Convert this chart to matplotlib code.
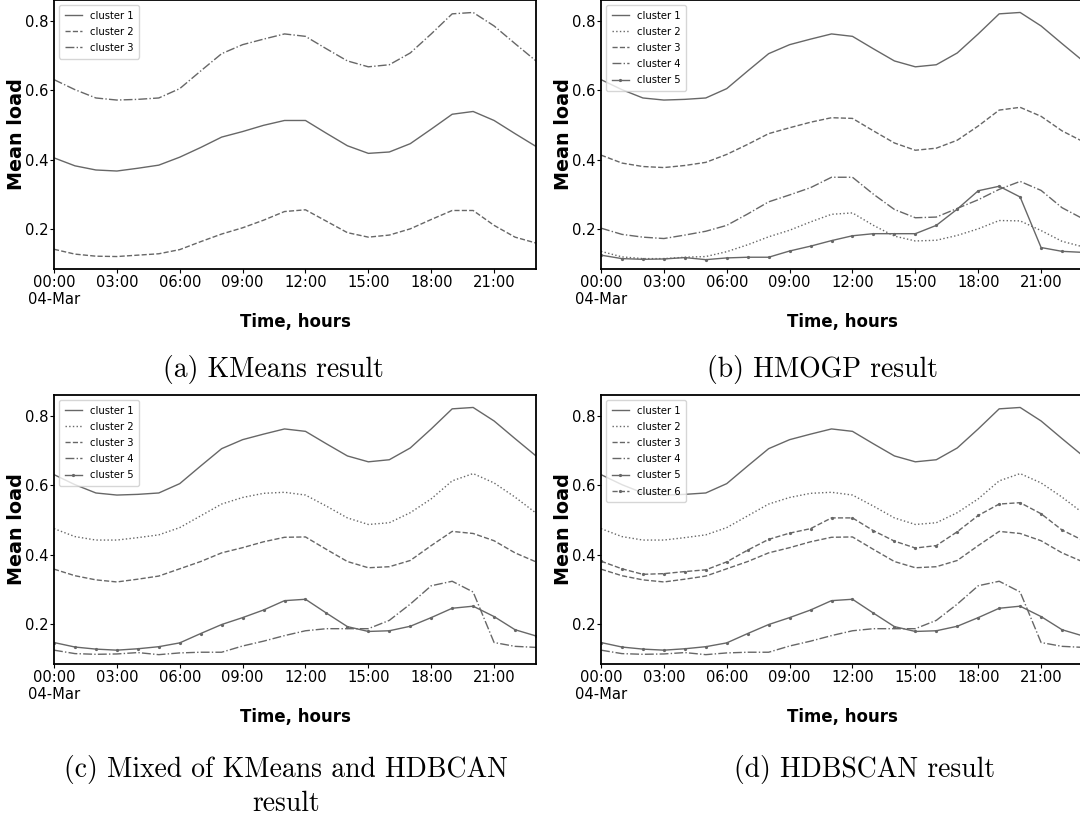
import matplotlib
matplotlib.use("Agg")
import matplotlib.pyplot as plt
from matplotlib import font_manager as fm

# ---------------------------------------------------------------- data
hours = list(range(24))
tick_hours = [0, 3, 6, 9, 12, 15, 18, 21]
tick_labels = ["00:00\n04-Mar", "03:00", "06:00", "09:00",
               "12:00", "15:00", "18:00", "21:00"]
y_ticks = [0.2, 0.4, 0.6, 0.8]

# evening-peak profile shared by the highest-load cluster in every method
high_load = [0.631, 0.602, 0.578, 0.572, 0.574, 0.578, 0.605, 0.656,
             0.706, 0.732, 0.748, 0.763, 0.756, 0.720, 0.685, 0.668,
             0.674, 0.708, 0.763, 0.821, 0.825, 0.786, 0.735, 0.685]

# profile with the sharp drop after 20:00
drop_load = [0.124, 0.114, 0.112, 0.113, 0.117, 0.111, 0.116, 0.118,
             0.118, 0.136, 0.150, 0.166, 0.180, 0.186, 0.186, 0.186,
             0.210, 0.257, 0.310, 0.323, 0.292, 0.146, 0.135, 0.132]

# (a) KMeans
kmeans_c1 = [0.405, 0.382, 0.370, 0.367, 0.375, 0.384, 0.407, 0.435,
             0.465, 0.481, 0.499, 0.513, 0.513, 0.476, 0.440, 0.418,
             0.422, 0.446, 0.488, 0.531, 0.539, 0.513, 0.475, 0.438]
kmeans_c2 = [0.141, 0.127, 0.121, 0.120, 0.124, 0.128, 0.140, 0.163,
             0.185, 0.203, 0.225, 0.250, 0.255, 0.222, 0.189, 0.176,
             0.182, 0.200, 0.227, 0.253, 0.253, 0.210, 0.176, 0.159]
kmeans_c3 = high_load

# (b) HMOGP
hmogp_c1 = high_load
hmogp_c2 = [0.135, 0.119, 0.114, 0.114, 0.118, 0.120, 0.134, 0.154,
            0.177, 0.196, 0.220, 0.242, 0.246, 0.210, 0.179, 0.165,
            0.167, 0.181, 0.200, 0.224, 0.223, 0.195, 0.164, 0.148]
hmogp_c3 = [0.413, 0.390, 0.380, 0.377, 0.383, 0.392, 0.415, 0.444,
            0.475, 0.492, 0.508, 0.521, 0.519, 0.483, 0.448, 0.427,
            0.433, 0.456, 0.497, 0.543, 0.551, 0.525, 0.483, 0.452]
hmogp_c4 = [0.202, 0.184, 0.176, 0.172, 0.182, 0.193, 0.210, 0.243,
            0.278, 0.298, 0.319, 0.349, 0.349, 0.300, 0.256, 0.232,
            0.234, 0.259, 0.284, 0.314, 0.337, 0.311, 0.261, 0.229]
hmogp_c5 = drop_load

# (c) mixed KMeans + HDBSCAN, (d) HDBSCAN
mixed_c1 = high_load
mixed_c2 = [0.475, 0.452, 0.442, 0.442, 0.449, 0.457, 0.478, 0.512,
            0.546, 0.565, 0.577, 0.580, 0.572, 0.540, 0.506, 0.487,
            0.492, 0.521, 0.561, 0.613, 0.634, 0.607, 0.566, 0.520]
mixed_c3 = [0.358, 0.339, 0.327, 0.321, 0.329, 0.338, 0.359, 0.380,
            0.405, 0.420, 0.437, 0.450, 0.451, 0.415, 0.380, 0.362,
            0.365, 0.383, 0.426, 0.467, 0.461, 0.440, 0.405, 0.379]
mixed_c4 = drop_load
mixed_c5 = [0.146, 0.133, 0.127, 0.124, 0.128, 0.134, 0.145, 0.172,
            0.198, 0.218, 0.240, 0.267, 0.271, 0.231, 0.192, 0.178,
            0.180, 0.193, 0.218, 0.245, 0.251, 0.221, 0.183, 0.165]
hdbscan_c6 = [0.381, 0.359, 0.343, 0.345, 0.351, 0.356, 0.379, 0.413,
              0.444, 0.462, 0.475, 0.506, 0.506, 0.469, 0.439, 0.419,
              0.426, 0.466, 0.513, 0.546, 0.550, 0.518, 0.471, 0.441]

# ---------------------------------------------------------------- fonts
def narrow_font():
    """Prefer a condensed sans for the horizontal labels."""
    entries = fm.fontManager.ttflist
    if any(f.name == "DejaVu Sans" and f.stretch == "condensed" for f in entries):
        return {"family": "DejaVu Sans", "stretch": "condensed"}
    names = {f.name for f in entries}
    for name in ("Liberation Sans Narrow", "Roboto Condensed", "Open Sans Condensed"):
        if name in names:
            return {"family": name}
    return {"family": "DejaVu Sans"}

NARROW = narrow_font()
tick_fp = fm.FontProperties(size=11.8, **NARROW)
legend_fp = fm.FontProperties(size=8.0, **NARROW)
xlabel_fp = fm.FontProperties(size=13.3, weight="bold", **NARROW)
ylabel_fp = fm.FontProperties(family="DejaVu Sans", size=13.8, weight="bold")
caption_fp = fm.FontProperties(family="cmr10", size=19.9)

LINE = "#676767"
STYLES = {
    "solid":   dict(linestyle="-"),
    "dotted":  dict(linestyle=":"),
    "dashed":  dict(linestyle="--"),
    "dashdot": dict(linestyle="-."),
    "marked":  dict(linestyle="-", marker=".", markersize=2.6),
    "markdash": dict(linestyle="--", marker=".", markersize=2.6),
}

# ---------------------------------------------------------------- layout
W, H = 1080, 818
fig = plt.figure(figsize=(W / 100, H / 100), dpi=100)


def panel(left, top, right, bottom):
    return fig.add_axes([left / W, 1 - bottom / H, (right - left) / W, (bottom - top) / H])


def draw(ax, series):
    for name, values, style in series:
        ax.plot(hours, values, color=LINE, linewidth=1.0, label=name, **STYLES[style])
    ax.set_xlim(0, 23)
    ax.set_ylim(0.084, 0.861)
    ax.set_xticks(tick_hours)
    ax.set_xticklabels(tick_labels, fontproperties=tick_fp, linespacing=1.15)
    ax.set_yticks(y_ticks)
    ax.set_yticklabels([f"{v:.1f}" for v in y_ticks], fontproperties=tick_fp)
    ax.tick_params(length=3, width=0.8, pad=1.2, colors="black")
    for sp in ax.spines.values():
        sp.set_linewidth(1.3)
    ax.set_xlabel("Time, hours", fontproperties=xlabel_fp)
    ax.xaxis.set_label_coords(0.5, -0.165)
    ax.set_ylabel("Mean load", fontproperties=ylabel_fp)
    ax.yaxis.set_label_coords(-0.059, 0.5)
    ax.legend(loc="upper left", prop=legend_fp, handlelength=1.6,
              handletextpad=0.7, borderaxespad=0.45, borderpad=0.5,
              labelspacing=0.56, framealpha=0.8)


ax_a = panel(54, 0, 536, 269)
draw(ax_a, [("cluster 1", kmeans_c1, "solid"),
            ("cluster 2", kmeans_c2, "dashed"),
            ("cluster 3", kmeans_c3, "dashdot")])

ax_b = panel(601, 0, 1083, 269)
draw(ax_b, [("cluster 1", hmogp_c1, "solid"),
            ("cluster 2", hmogp_c2, "dotted"),
            ("cluster 3", hmogp_c3, "dashed"),
            ("cluster 4", hmogp_c4, "dashdot"),
            ("cluster 5", hmogp_c5, "marked")])

ax_c = panel(54, 395, 536, 664)
draw(ax_c, [("cluster 1", mixed_c1, "solid"),
            ("cluster 2", mixed_c2, "dotted"),
            ("cluster 3", mixed_c3, "dashed"),
            ("cluster 4", mixed_c4, "dashdot"),
            ("cluster 5", mixed_c5, "marked")])

ax_d = panel(601, 395, 1083, 664)
draw(ax_d, [("cluster 1", mixed_c1, "solid"),
            ("cluster 2", mixed_c2, "dotted"),
            ("cluster 3", mixed_c3, "dashed"),
            ("cluster 4", mixed_c4, "dashdot"),
            ("cluster 5", mixed_c5, "marked"),
            ("cluster 6", hdbscan_c6, "markdash")])

# sub-figure captions
def caption(x, y, text):
    fig.text(x / W, 1 - y / H, text, fontproperties=caption_fp,
             ha="center", va="center", color="black")

caption(273, 369, "(a) KMeans result")
caption(822, 369, "(b) HMOGP result")
caption(286, 769, "(c) Mixed of KMeans and HDBCAN")
caption(286, 804, "result")
caption(865, 769, "(d) HDBSCAN result")

fig.savefig("out.png", dpi=100)
